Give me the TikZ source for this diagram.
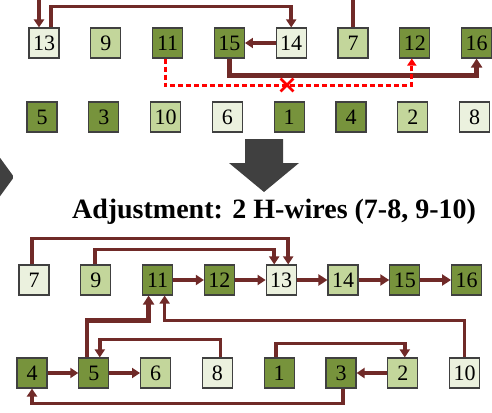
\documentclass[tikz,border=0pt]{standalone}
\usepackage{fontspec}
\setmainfont{Liberation Serif}
\usepackage{tikz}
\usepackage{xcolor}
\usetikzlibrary{arrows.meta, positioning, shapes.misc}
\definecolor{cDark}{RGB}{119,147,60}
\definecolor{cMid}{RGB}{195,214,155}
\definecolor{cPale}{RGB}{235,241,222}
\definecolor{cWire}{RGB}{112,42,40}
\definecolor{cBigArrow}{RGB}{64,64,64}
\tikzset{
    cell/.style     ={rectangle, draw=black!75, line width=1.1pt, minimum size=30pt, inner sep=0pt, text centered, font=\fontsize{22}{22}\selectfont},
    wire/.style     ={-{Triangle[length=8pt, width=10pt]}, line width=3.5pt, draw=cWire},
    thickwire/.style={-{Triangle[length=9pt, width=11pt]}, line width=4.4pt, draw=cWire},
    cutwire/.style  ={-{Triangle[length=7pt, width=9pt]}, line width=3pt, draw=red, dash pattern=on 5pt off 3pt},
}

\begin{document}
\begin{tikzpicture}[x=1pt, y=1pt,
        dk/.style={cell, fill=cDark}, md/.style={cell, fill=cMid}, pl/.style={cell, fill=cPale},
        xmark/.style={cross out, draw=red, line width=2.8pt, minimum size=10pt, inner sep=0pt}]
        \useasboundingbox (0,0) rectangle (492,-412);
        % before adjustment
        \node[pl] (old13) at (44,-43) {13};
        \node[md, right=30.7pt of old13] (old9)  {9};
        \node[dk, right=30.7pt of old9]  (old11) {11};
        \node[dk, right=30.7pt of old11] (old15) {15};
        \node[pl, right=30.7pt of old15] (old14) {14};
        \node[md, right=30.7pt of old14] (old7)  {7};
        \node[dk, right=30.7pt of old7]  (old12) {12};
        \node[dk, right=30.7pt of old12] (old16) {16};
        \node[dk] (old5) at (42,-117) {5};
        \node[dk, right=30.7pt of old5]  (old3)  {3};
        \node[md, right=30.7pt of old3]  (old10) {10};
        \node[pl, right=30.7pt of old10] (old6)  {6};
        \node[dk, right=30.7pt of old6]  (old1)  {1};
        \node[dk, right=30.7pt of old1]  (old4)  {4};
        \node[md, right=30.7pt of old4]  (old2)  {2};
        \node[pl, right=30.7pt of old2]  (old8)  {8};
        \coordinate (feed13) at (39,0);
        \coordinate (feed7) at (348,0);
        \draw[wire] (feed13) -- (feed13 |- old13.north);
        \draw[wire] ([xshift=7pt]old13.north) -- ++(0,21) -| (old14.north);
        \draw[wire] (old14) -- (old15);
        \draw[wire, -] (old7.north) -- (old7.north |- feed7);
        \draw[thickwire] (old15.south) -- ++(0,-17) -| (old16.south);
        \draw[cutwire] ([xshift=-2.5pt]old11.south) -- ++(0,-27) -| ([xshift=-3pt]old12.south);
        \node[xmark] (cutmark) at (287,-85) {};
        % adjustment
        \fill[cBigArrow] (245,-139) -- (283,-139) -- (283,-163) -- (299,-163) -- (264,-192) -- (229,-163) -- (245,-163) -- cycle;
        \fill[cBigArrow, rounded corners=2pt] (-2,-155) -- (14,-177) -- (-2,-199) -- cycle;
        \node[font=\fontsize{28}{28}\selectfont\bfseries] (title) at (274,-212) {Adjustment: 2 H-wires (7-8, 9-10)};
        % after adjustment
        \node[pl] (new7) at (34,-280) {7};
        \node[md, right=30.7pt of new7]  (new9)  {9};
        \node[dk, right=30.7pt of new9]  (new11) {11};
        \node[dk, right=30.7pt of new11] (new12) {12};
        \node[pl, right=30.7pt of new12] (new13) {13};
        \node[md, right=30.7pt of new13] (new14) {14};
        \node[dk, right=30.7pt of new14] (new15) {15};
        \node[dk, right=30.7pt of new15] (new16) {16};
        \node[dk] (new4) at (32,-373) {4};
        \node[dk, right=30.7pt of new4]  (new5)  {5};
        \node[md, right=30.7pt of new5]  (new6)  {6};
        \node[pl, right=30.7pt of new6]  (new8)  {8};
        \node[dk, right=30.7pt of new8]  (new1)  {1};
        \node[dk, right=30.7pt of new1]  (new3)  {3};
        \node[md, right=30.7pt of new3]  (new2)  {2};
        \node[pl, right=30.7pt of new2]  (new10) {10};
        \draw[wire] ([xshift=-2pt]new7.north) -- ++(0,26) -| ([xshift=7pt]new13.north);
        \draw[wire] ([xshift=-1pt]new9.north) -- ++(0,15) -| ([xshift=-7pt]new13.north);
        \draw[wire] (new11) -- (new12);
        \draw[wire] (new12) -- (new13);
        \draw[thickwire] (new13) -- (new14);
        \draw[thickwire] (new14) -- (new15);
        \draw[thickwire] (new15) -- (new16);
        \draw[thickwire] ([xshift=-7pt]new5.north) -- ++(0,37) -| ([xshift=-9pt]new11.south);
        \draw[wire] (new10.north) -- ++(0,37) -| ([xshift=7pt]new11.south);
        \draw[wire] ([xshift=3pt]new8.north) -- ++(0,18) -| ([xshift=6pt]new5.north);
        \draw[wire] (new4) -- (new5);
        \draw[wire] (new5) -- (new6);
        \draw[wire] ([xshift=-3pt]new1.north) -- ++(0,14) -| ([xshift=2pt]new2.north);
        \draw[wire] (new2) -- (new3);
        \draw[wire] ([xshift=2pt]new3.south) -- ++(0,-15) -| (new4.south);
    \end{tikzpicture}
\end{document}
